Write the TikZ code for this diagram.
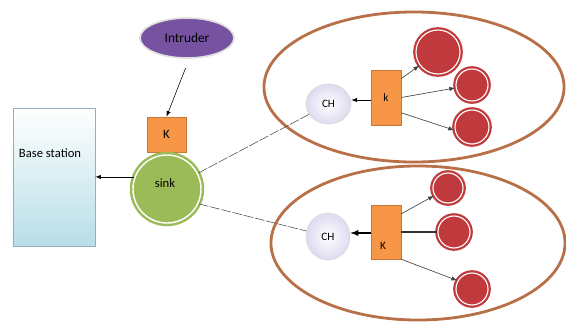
\documentclass[tikz,border=0pt]{standalone}
\usepackage{fontspec}
\setmainfont{Carlito}
\usetikzlibrary{shapes.geometric}
\definecolor{intrpurple}{RGB}{118,82,160}
\definecolor{keyorange}{RGB}{247,150,70}
\definecolor{sinkgreen}{RGB}{155,187,89}
\definecolor{nodered}{RGB}{192,57,60}
\definecolor{clusterbrown}{RGB}{184,112,72}
\definecolor{bsblue}{RGB}{183,222,232}
\definecolor{chlilac}{RGB}{222,218,240}

\begin{document}
\begin{tikzpicture}[x=0.025cm, y=-0.025cm, >=latex, thick,
    cluster/.style = {draw=clusterbrown, line width=2pt, ellipse},
    keybox/.style = {draw=keyorange!80!black, thin, fill=keyorange, inner sep=0pt},
    sensor/.style = {circle, inner sep=0pt, draw=nodered, double=white, double distance=0.8pt, line width=1.6pt, fill=nodered},
    head/.style = {ellipse, inner sep=0pt, draw=gray!30, thin, inner color=white, outer color=chlilac, font=\fontsize{8}{9}\selectfont},
    link/.style = {draw=black!70, thin, dash pattern=on 7pt off 1.2pt},
    tolink/.style = {->, draw=black!75, line width=0.45pt}]
    \useasboundingbox (0,0) rectangle (566,324);
    % clusters
    \node[cluster, minimum width=7.5cm, minimum height=3.75cm] (c1) at (414,87) {};
    \node[cluster, minimum width=7.35cm, minimum height=3.85cm] (c2) at (418,243) {};
    % base station and sink
    \node[draw=bsblue!80!black, thin, top color=white, bottom color=bsblue, minimum width=2.05cm, minimum height=3.45cm] (bs) at (54,177) {};
    \node (bslabel) at (50,153) {\fontsize{9}{10}\selectfont Base station};
    \node[ellipse, fill=intrpurple, draw=gray!25, line width=1.2pt, minimum width=2.35cm, minimum height=1cm, font=\fontsize{9.5}{10}\selectfont] (intr) at (187,38) {Intruder};
    \node[keybox, minimum width=0.975cm, minimum height=0.875cm] (ks) at (166.5,134.5) {\fontsize{9}{10}\selectfont K\hspace{3pt}};
    \node[circle, inner sep=0pt, draw=sinkgreen, double=white, double distance=1pt, line width=1.8pt, fill=sinkgreen, minimum size=1.7cm] (sink) at (167,189) {};
    \node (sinklabel) at (165,183) {\fontsize{9}{10}\selectfont sink};
    % cluster heads and keys
    \node[head, minimum width=1.125cm, minimum height=1cm] (ch1) at (328.5,104) {CH};
    \node[head, minimum width=1.1cm, minimum height=1.175cm] (ch2) at (328,236.5) {CH};
    \node[keybox, minimum width=0.75cm, minimum height=1.375cm] (k1) at (386,97.5) {\fontsize{8}{9}\selectfont k};
    \node[keybox, minimum width=0.75cm, minimum height=1.35cm] (k2) at (386,232) {};
    \node (k2label) at (383,246) {\fontsize{8}{9}\selectfont K};
    % members
    \node[sensor, minimum size=1.1cm] (s1) at (438,52) {};
    \node[sensor, minimum size=0.8cm] (s2) at (472,85) {};
    \node[sensor, minimum size=0.85cm] (s3) at (472,127) {};
    \node[sensor, minimum size=0.75cm] (s4) at (448,188) {};
    \node[sensor, minimum width=0.8cm, minimum height=0.72cm] (s5) at (454,232) {};
    \node[sensor, minimum size=0.8cm] (s6) at (472,289) {};
    % connectors
    \draw[->, thin, shorten <=7pt] (intr.-84) -- (ks.north);
    \draw[->, thin] (sink.160) -- (bs.east |- sink.160);
    \draw[link] (sink.27) -- (ch1);
    \draw[link] (sink.-25) -- (ch2);
    \draw[->, thin] (k1.west |- 0,100) -- (ch1.east |- 0,100);
    \draw[->, line width=1pt] (k2.west |- 0,233) -- (ch2.east |- 0,233);
    \draw[tolink] (k1.51) -- (s1);
    \draw[tolink] (k1.east) -- (s2);
    \draw[tolink] (k1.-45) -- (s3.190);
    \draw[tolink] (k2.50) -- (s4);
    \draw[line width=1.4pt, black!80] (k2.east) -- (s5.west);
    \draw[tolink] (k2.south east) -- (s6.150);
\end{tikzpicture}
\end{document}
